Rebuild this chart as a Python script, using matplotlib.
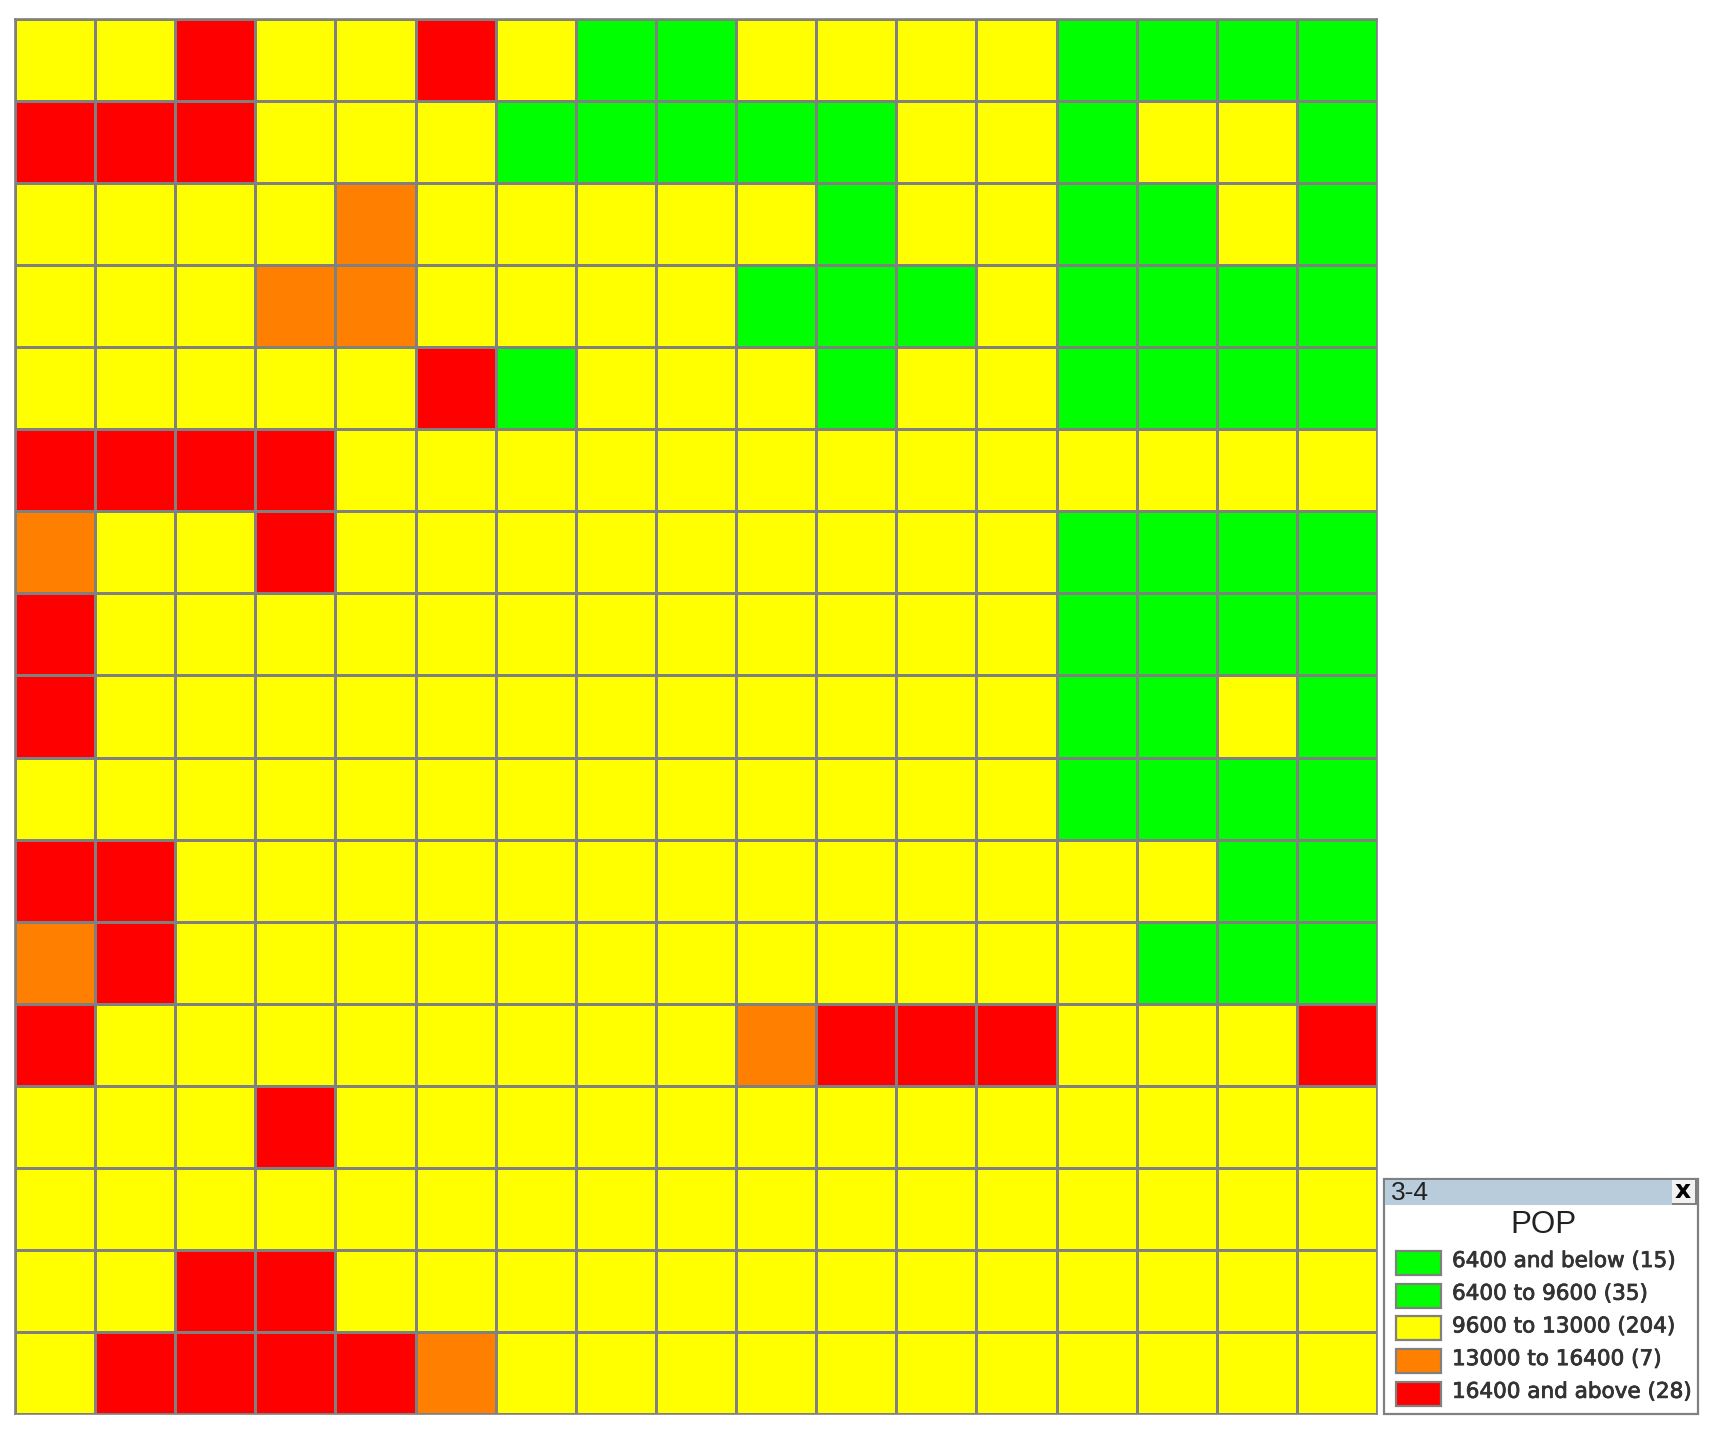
import numpy as np
import matplotlib.pyplot as plt
import matplotlib.patheffects as pe
from matplotlib.colors import ListedColormap
from matplotlib.patches import Rectangle

W, H = 1719, 1437

# class of each cell: 1 = 6400 to 9600, 2 = 9600 to 13000, 3 = 13000 to 16400, 4 = 16400 and above
grid = [
    [2, 2, 4, 2, 2, 4, 2, 1, 1, 2, 2, 2, 2, 1, 1, 1, 1],
    [4, 4, 4, 2, 2, 2, 1, 1, 1, 1, 1, 2, 2, 1, 2, 2, 1],
    [2, 2, 2, 2, 3, 2, 2, 2, 2, 2, 1, 2, 2, 1, 1, 2, 1],
    [2, 2, 2, 3, 3, 2, 2, 2, 2, 1, 1, 1, 2, 1, 1, 1, 1],
    [2, 2, 2, 2, 2, 4, 1, 2, 2, 2, 1, 2, 2, 1, 1, 1, 1],
    [4, 4, 4, 4, 2, 2, 2, 2, 2, 2, 2, 2, 2, 2, 2, 2, 2],
    [3, 2, 2, 4, 2, 2, 2, 2, 2, 2, 2, 2, 2, 1, 1, 1, 1],
    [4, 2, 2, 2, 2, 2, 2, 2, 2, 2, 2, 2, 2, 1, 1, 1, 1],
    [4, 2, 2, 2, 2, 2, 2, 2, 2, 2, 2, 2, 2, 1, 1, 2, 1],
    [2, 2, 2, 2, 2, 2, 2, 2, 2, 2, 2, 2, 2, 1, 1, 1, 1],
    [4, 4, 2, 2, 2, 2, 2, 2, 2, 2, 2, 2, 2, 2, 2, 1, 1],
    [3, 4, 2, 2, 2, 2, 2, 2, 2, 2, 2, 2, 2, 2, 1, 1, 1],
    [4, 2, 2, 2, 2, 2, 2, 2, 2, 3, 4, 4, 4, 2, 2, 2, 4],
    [2, 2, 2, 4, 2, 2, 2, 2, 2, 2, 2, 2, 2, 2, 2, 2, 2],
    [2, 2, 2, 2, 2, 2, 2, 2, 2, 2, 2, 2, 2, 2, 2, 2, 2],
    [2, 2, 4, 4, 2, 2, 2, 2, 2, 2, 2, 2, 2, 2, 2, 2, 2],
    [2, 4, 4, 4, 4, 3, 2, 2, 2, 2, 2, 2, 2, 2, 2, 2, 2],
]
colors = ['#00ff00', '#00ff00', '#ffff00', '#ff8000', '#ff0000']
labels = ['6400 and below (15)', '6400 to 9600 (35)', '9600 to 13000 (204)',
          '13000 to 16400 (7)', '16400 and above (28)']

fig = plt.figure(figsize=(W / 100, H / 100), dpi=100)

# main grid
ax = fig.add_axes([15 / W, 1 - 1414 / H, 1362 / W, 1395 / H])
ax.pcolormesh(np.array(grid), cmap=ListedColormap(colors), vmin=-0.5, vmax=4.5,
              edgecolors='#808080', linewidth=1.05)
ax.set_ylim(17, 0)
ax.set_xticks([])
ax.set_yticks([])
for s in ax.spines.values():
    s.set_color('#808080')
    s.set_linewidth(1.2)

# legend window, in pixels
lg = fig.add_axes([0, 0, 1, 1])
lg.set_xlim(0, W)
lg.set_ylim(H, 0)
lg.axis('off')
lg.patch.set_alpha(0)
lg.add_patch(Rectangle((1384, 1179), 314, 235, fc='white', ec='#808080', lw=1.6))
lg.add_patch(Rectangle((1385, 1180), 312, 25, fc='#b8ccdc', ec='none'))
# close button
lg.add_patch(Rectangle((1672, 1180), 25, 25, fc='#808080', ec='none'))
lg.add_patch(Rectangle((1672, 1180), 23, 23, fc='#f2f2f2', ec='none'))
lg.text(1683, 1191, 'x', ha='center', va='center', fontsize=18, fontweight='bold',
        family='DejaVu Sans', color='black')
lg.text(1391, 1193, '3-4', ha='left', va='center', fontsize=19, family='Liberation Sans',
        color='#222222')
lg.text(1543, 1225, 'POP', ha='center', va='center', fontsize=22.5, family='Liberation Sans', color='#222222')
for i, (c, lab) in enumerate(zip(colors, labels)):
    y = 1251 + i * 32.7
    lg.add_patch(Rectangle((1396, y), 45, 24, fc=c, ec='#808080', lw=1.6))
    t = lg.text(1452, y + 10, lab, ha='left', va='center', fontsize=15.5,
                family='DejaVu Sans', color='#333333')
    t.set_path_effects([pe.withStroke(linewidth=0.6, foreground='#333333')])

fig.savefig('out.png', dpi=100)
